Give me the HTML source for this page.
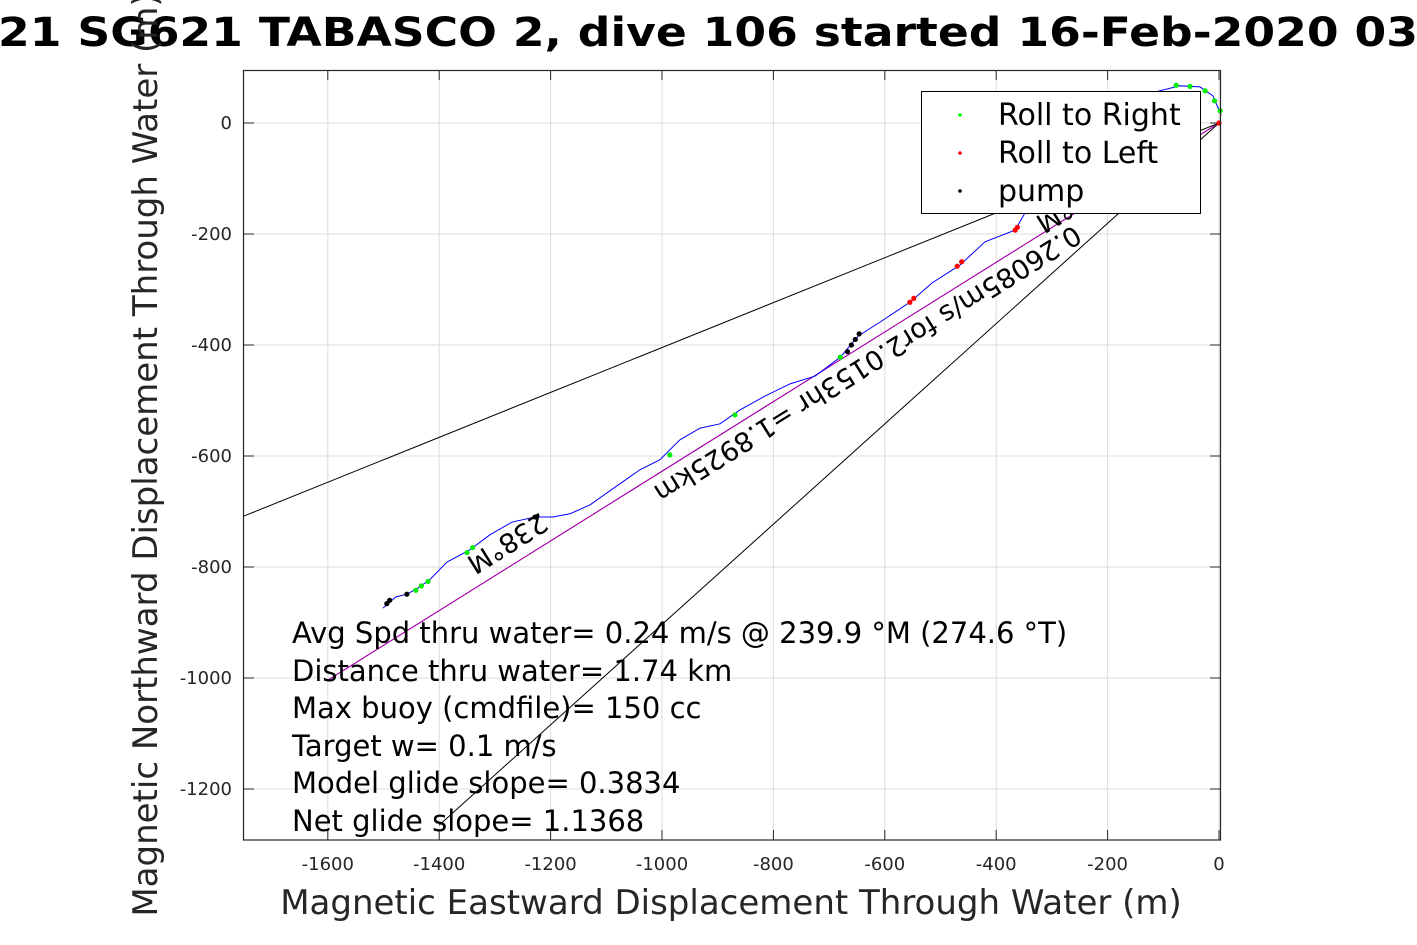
<!DOCTYPE html>
<html><head><meta charset="utf-8">
<style>
html,body{margin:0;padding:0;background:#fff;width:1417px;height:945px;overflow:hidden;}
svg{display:block;font-family:"DejaVu Sans","Liberation Sans",sans-serif;}
</style></head>
<body>
<svg id="chart" width="1417" height="945" viewBox="0 0 1417 945" xmlns="http://www.w3.org/2000/svg">
  <rect x="0" y="0" width="1417" height="945" fill="#fff"/>
  <text x="-2" y="46" font-size="40" font-weight="bold" textLength="1420" lengthAdjust="spacingAndGlyphs">21 SG621 TABASCO 2, dive 106 started 16-Feb-2020 03</text>
  <g id="grid"></g>
  <g id="ticks"></g>
  <g id="lines"></g>
  <g id="track"></g>
  <g id="labels"></g>
  <rect x="243.5" y="70.5" width="977" height="769.5" fill="none" stroke="#262626" stroke-width="1.2"/>
  <g font-size="29" fill="#000">
    <text x="292" y="643">Avg Spd thru water=  0.24 m/s @ 239.9 °M (274.6 °T)</text>
    <text x="292" y="681">Distance thru water=  1.74 km</text>
    <text x="292" y="718">Max buoy (cmdfile)= 150 cc</text>
    <text x="292" y="756">Target w= 0.1 m/s</text>
    <text x="292" y="793">Model glide slope= 0.3834</text>
    <text x="292" y="831">Net glide slope= 1.1368</text>
  </g>
  <g>
    <rect x="921.5" y="91.5" width="279" height="122" fill="#fff" stroke="#000" stroke-width="1"/>
    <circle cx="960" cy="115" r="1.8" fill="#00ff00"/>
    <text x="998" y="125" font-size="30">Roll to Right</text>
    <circle cx="960" cy="153" r="1.8" fill="#ff0000"/>
    <text x="998" y="163" font-size="30">Roll to Left</text>
    <circle cx="960" cy="191" r="1.8" fill="#000"/>
    <text x="998" y="201" font-size="30">pump</text>
  </g>
  <text x="731" y="914" font-size="34" fill="#262626" text-anchor="middle">Magnetic Eastward Displacement Through Water (m)</text>
  <text transform="translate(157,455) rotate(-90)" font-size="34" fill="#262626" text-anchor="middle">Magnetic Northward Displacement Through Water (m)</text>
</svg>
<script>
const xTicks=[-1600,-1400,-1200,-1000,-800,-600,-400,-200,0];
const yTicks=[0,-200,-400,-600,-800,-1000,-1200];
const trackX=[-1501,-1478,-1458,-1438,-1417,-1386,-1345,-1309,-1269,-1228,-1196,-1165,-1129,-1084,-1040,-1004,-968,-932,-896,-860,-815,-770,-725,-680,-648,-609,-555,-515,-465,-420,-366,-330,-285,-214,-142,-70,-34,-11,4];
const trackY=[-874,-854,-849,-838,-823,-791,-769,-742,-719,-710,-710,-704,-688,-656,-625,-607,-571,-550,-542,-517,-492,-470,-456,-422,-384,-359,-323,-288,-256,-214,-193,-130,-67,5,49,67,65,49,14];
const rightX=[-1442,-1432,-1420,-1350,-1340,-986,-869,-680,-77,-52,-25,-8,2];
const rightY=[-842,-834,-826,-774,-765,-598,-526,-422,68,66,58,40,22];
const leftX=[-555,-548,-470,-462,-366,-362,0];
const leftY=[-323,-316,-258,-250,-193,-188,0];
const pumpX=[-1494,-1489,-1458,-1228,-667,-660,-653,-646];
const pumpY=[-866,-860,-849,-710,-412,-400,-390,-380];
const lineEndX=[-1760,-1600,-1600,-1400];
const lineEndY=[-712,-1004,-1004,-1265];
const lineColors=['#000','#000','#c000c0','#000'];
const X0=1219,KX=0.557,Y0=123,KY=0.555;
const sx=v=>X0+v*KX, sy=v=>Y0-v*KY;
const NS='http://www.w3.org/2000/svg';
function mk(tag,parent,attrs){const e=document.createElementNS(NS,tag);for(const k in attrs)e.setAttribute(k,attrs[k]);parent.appendChild(e);return e;}
const grid=document.getElementById('grid'),ticks=document.getElementById('ticks');
xTicks.forEach(v=>{const x=sx(v);
  const g=mk('line',grid,{x1:x,x2:x,y1:70.5,y2:840,stroke:'#dcdcdc','stroke-width':1});
  
  
  const t=mk('line',ticks,{x1:x,x2:x,y1:840,y2:830,stroke:'#262626'});
  
  
  const t2=mk('line',ticks,{x1:x,x2:x,y1:70.5,y2:80,stroke:'#262626'});
  
  
  const l=mk('text',ticks,{x:x,y:870,'font-size':18,fill:'#262626','text-anchor':'middle'});l.textContent=String(v);
  
  
});
yTicks.forEach(v=>{const y=sy(v);
  const g=mk('line',grid,{x1:243.5,x2:1220.5,y1:y,y2:y,stroke:'#dcdcdc','stroke-width':1});
  
  
  const t=mk('line',ticks,{x1:243.5,x2:254,y1:y,y2:y,stroke:'#262626'});
  
  
  const t2=mk('line',ticks,{x1:1210,x2:1220.5,y1:y,y2:y,stroke:'#262626'});
  
  
  const l=mk('text',ticks,{x:232,y:y+6,'font-size':18,fill:'#262626','text-anchor':'end'});l.textContent=String(v);
  
  
});
const lines=document.getElementById('lines');
lineEndX.forEach((v,i)=>{
  const ln=mk('line',lines,{x1:sx(0),y1:sy(0),x2:Math.max(243.5,sx(v)),y2:sy(lineEndY[i]*(Math.max(243.5,sx(v))-sx(0))/(sx(v)-sx(0))),stroke:lineColors[i],'stroke-width':1});
  
  
});
const track=document.getElementById('track');
const p=mk('polyline',track,{points:trackX.map((v,i)=>sx(v)+','+sy(trackY[i])).join(' '),fill:'none',stroke:'#0000ff','stroke-width':1});


function dots(xs,ys,col,name){xs.forEach((v,i)=>{const c=mk('circle',track,{cx:sx(v),cy:sy(ys[i]),r:2.6,fill:col});
  
  });}
dots(rightX,rightY,'#00ee00','roll-right-point');
dots(leftX,leftY,'#ff0000','roll-left-point');
dots(pumpX,pumpY,'#000','pump-point');
const labels=document.getElementById('labels');
function rl(txt,x,y,anchor,name){const t=mk('text',labels,{x:0,y:0,'font-size':27,'text-anchor':anchor,transform:`translate(${x},${y}) rotate(148)`});t.textContent=txt;
  
  }
rl('238°M',540,512,'start','heading-label-238');
rl('0.26085m/s for2.0153hr =1.8925km',652,488,'end','speed-distance-label');
rl('239.9°M',1034,218,'end','heading-label-top');
</script>
</body></html>
